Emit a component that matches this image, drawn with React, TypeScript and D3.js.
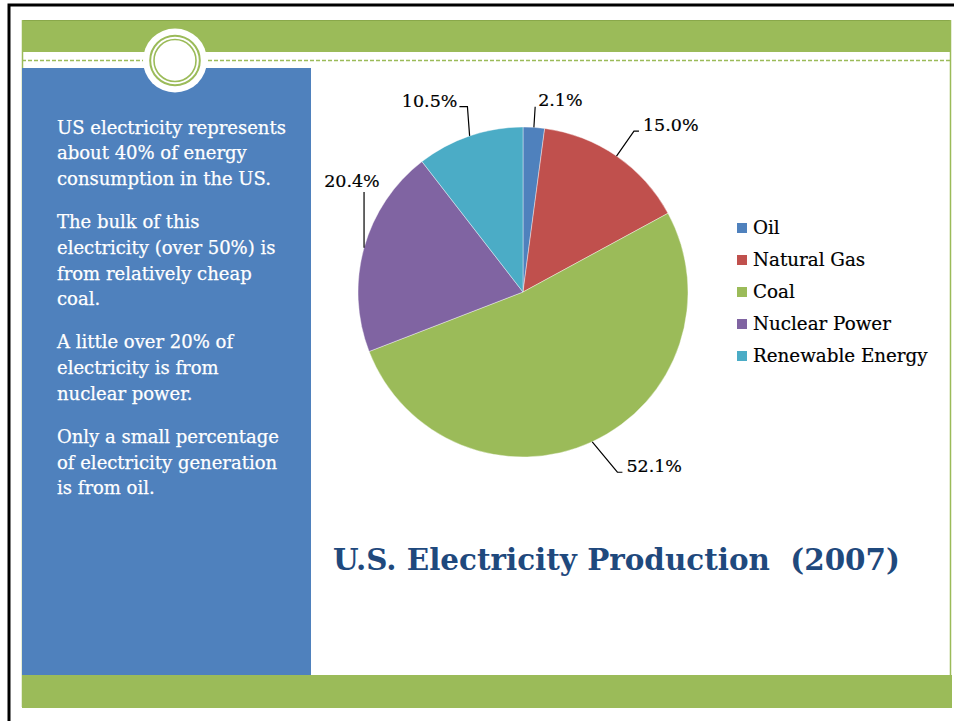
import React, { useEffect, useRef } from "react";
import * as d3 from "d3";

const categories = ["Oil", "Natural Gas", "Coal", "Nuclear Power", "Renewable Energy"];
const shares = [2.1, 15.0, 52.1, 20.4, 10.5];
const sliceColors = ["#4F81BD", "#C0504D", "#9BBB59", "#8064A2", "#4BACC6"];

const sidebarParagraphs = [
  ["US electricity represents", "about 40% of energy", "consumption in the US."],
  ["The bulk of this", "electricity (over 50%) is", "from relatively cheap", "coal."],
  ["A little over 20% of", "electricity is from", "nuclear power."],
  ["Only a small percentage", "of electricity generation", "is from oil."],
];

const title = "U.S. Electricity Production\u00a0\u00a0(2007)";

// where each data label sits: angle (deg, clockwise from 12 o'clock) and distance from centre
const labelPlacement: Record<string, { angle: number; r: number }> = {
  Oil: { angle: 11, r: 196 },
  "Natural Gas": { angle: 41.5, r: 223 },
  Coal: { angle: 143, r: 218 },
  "Nuclear Power": { angle: 303, r: 204 },
  "Renewable Energy": { angle: 334, r: 213 },
};

const W = 954;
const H = 721;
const GREEN = "#9BBB59";
const BLUE = "#4F81BD";
const SERIF = "'DejaVu Serif', serif";

export default function App() {
  const svgRef = useRef<SVGSVGElement | null>(null);

  useEffect(() => {
    document.body.style.margin = "0";
    if (!svgRef.current) return;
    const svg = d3.select(svgRef.current);
    svg.selectAll("*").remove();

    // ---- slide frame ----
    svg.append("rect").attr("width", W).attr("height", H).attr("fill", "#fff");
    svg
      .append("path")
      .attr("d", `M9,${H} V5 H${W}`)
      .attr("fill", "none")
      .attr("stroke", "#000")
      .attr("stroke-width", 3);

    svg.append("rect").attr("x", 22).attr("y", 20).attr("width", 928).attr("height", 32).attr("fill", GREEN);
    svg.append("line").attr("x1", 22).attr("x2", 950).attr("y1", 20.5).attr("y2", 20.5).attr("stroke", "#89A84A").attr("stroke-width", 1);
    svg.append("line").attr("x1", 22.5).attr("x2", 22.5).attr("y1", 20).attr("y2", 707).attr("stroke", GREEN).attr("stroke-width", 1.5);
    svg.append("line").attr("x1", 950.5).attr("x2", 950.5).attr("y1", 20).attr("y2", 707).attr("stroke", GREEN).attr("stroke-width", 1.5);
    svg
      .append("line")
      .attr("x1", 22)
      .attr("x2", 950)
      .attr("y1", 60.5)
      .attr("y2", 60.5)
      .attr("stroke", GREEN)
      .attr("stroke-width", 1.3)
      .attr("stroke-dasharray", "4,2");

    svg.append("rect").attr("x", 22).attr("y", 68).attr("width", 289).attr("height", 607).attr("fill", BLUE);
    svg.append("rect").attr("x", 22).attr("y", 675).attr("width", 930).attr("height", 33).attr("fill", GREEN);

    const badge = svg.append("g").attr("transform", "translate(175,60.5)");
    badge.append("circle").attr("r", 32).attr("fill", "#fff");
    badge.append("circle").attr("r", 24.8).attr("fill", "none").attr("stroke", GREEN).attr("stroke-width", 2);
    badge.append("circle").attr("r", 21).attr("fill", "none").attr("stroke", GREEN).attr("stroke-width", 1.6);

    // ---- sidebar text ----
    const side = svg
      .append("text")
      .attr("fill", "#fff")
      .attr("stroke", "#fff")
      .attr("stroke-width", 0.25)
      .attr("font-family", SERIF)
      .attr("font-size", 18);
    let y = 133.5;
    sidebarParagraphs.forEach((para, pi) => {
      if (pi > 0) y += 17.5;
      para.forEach((line, li) => {
        if (pi > 0 || li > 0) y += 25.7;
        side.append("tspan").attr("x", 57).attr("y", y).text(line);
      });
    });

    // ---- pie ----
    const cx = 523;
    const cy = 292;
    const R = 165;
    const data = categories.map((name, i) => ({ name, value: shares[i], color: sliceColors[i] }));
    const pie = d3
      .pie<(typeof data)[number]>()
      .sort(null)
      .value(d => d.value);
    const arcs = pie(data);
    const arc = d3.arc<d3.PieArcDatum<(typeof data)[number]>>().innerRadius(0).outerRadius(R);

    const g = svg.append("g").attr("transform", `translate(${cx},${cy})`);
    g.selectAll("path.slice")
      .data(arcs)
      .join("path")
      .attr("class", "slice")
      .attr("d", arc)
      .attr("fill", d => d.data.color)
      .attr("stroke", "#fff")
      .attr("stroke-width", 0.4);

    const polar = (a: number, r: number): [number, number] => [r * Math.sin(a), -r * Math.cos(a)];
    const LFS = 17.5;

    arcs.forEach(a => {
      const mid = (a.startAngle + a.endAngle) / 2;
      const [ax, ay] = polar(mid, R);
      const place = labelPlacement[a.data.name];
      const [lx, ly] = polar((place.angle * Math.PI) / 180, place.r);
      const txt = g
        .append("text")
        .attr("x", lx)
        .attr("y", ly)
        .attr("dy", "0.35em")
        .attr("text-anchor", "middle")
        .attr("font-family", SERIF)
        .attr("font-size", LFS)
        .attr("fill", "#000")
        .attr("stroke", "#000")
        .attr("stroke-width", 0.2)
        .text(`${a.data.value.toFixed(1)}%`);
      const w = (txt.node() as SVGTextElement).getComputedTextLength();
      const x0 = lx - w / 2;
      const x1 = lx + w / 2;
      const base = ly + LFS * 0.35;
      let pts: [number, number][];
      if (x0 - ax > 10) {
        pts = [[ax, ay], [x0 - 9, base], [x0 - 4, base]];
      } else if (ax - x1 > 10) {
        pts = [[ax, ay], [x1 + 10, base], [x1 + 2, base]];
      } else if (ax >= x0 && ax <= x1) {
        pts = [[ax, ay], [ax, base + 5]];
      } else {
        pts = [[ax, ay], [x0 - 3, base + 1]];
      }
      g.append("path")
        .attr("d", d3.line()(pts))
        .attr("fill", "none")
        .attr("stroke", "#000")
        .attr("stroke-width", 1.2);
    });

    // ---- legend ----
    const legend = svg.append("g").attr("transform", "translate(737,228)");
    const row = legend
      .selectAll("g")
      .data(data)
      .join("g")
      .attr("transform", (_d, i) => `translate(0,${i * 32})`);
    row.append("rect").attr("x", 0).attr("y", -5).attr("width", 10).attr("height", 10).attr("fill", d => d.color);
    row
      .append("text")
      .attr("x", 16)
      .attr("dy", "0.35em")
      .attr("font-family", SERIF)
      .attr("font-size", 18.3)
      .attr("fill", "#000")
      .attr("stroke", "#000")
      .attr("stroke-width", 0.2)
      .text(d => d.name);

    // ---- title ----
    svg
      .append("text")
      .attr("x", 333)
      .attr("y", 570)
      .attr("font-family", SERIF)
      .attr("font-weight", "bold")
      .attr("font-size", 29.4)
      .attr("fill", "#1F497D")
      .text(title);
  }, []);

  return <svg ref={svgRef} width={W} height={H} style={{ display: "block" }} />;
}
